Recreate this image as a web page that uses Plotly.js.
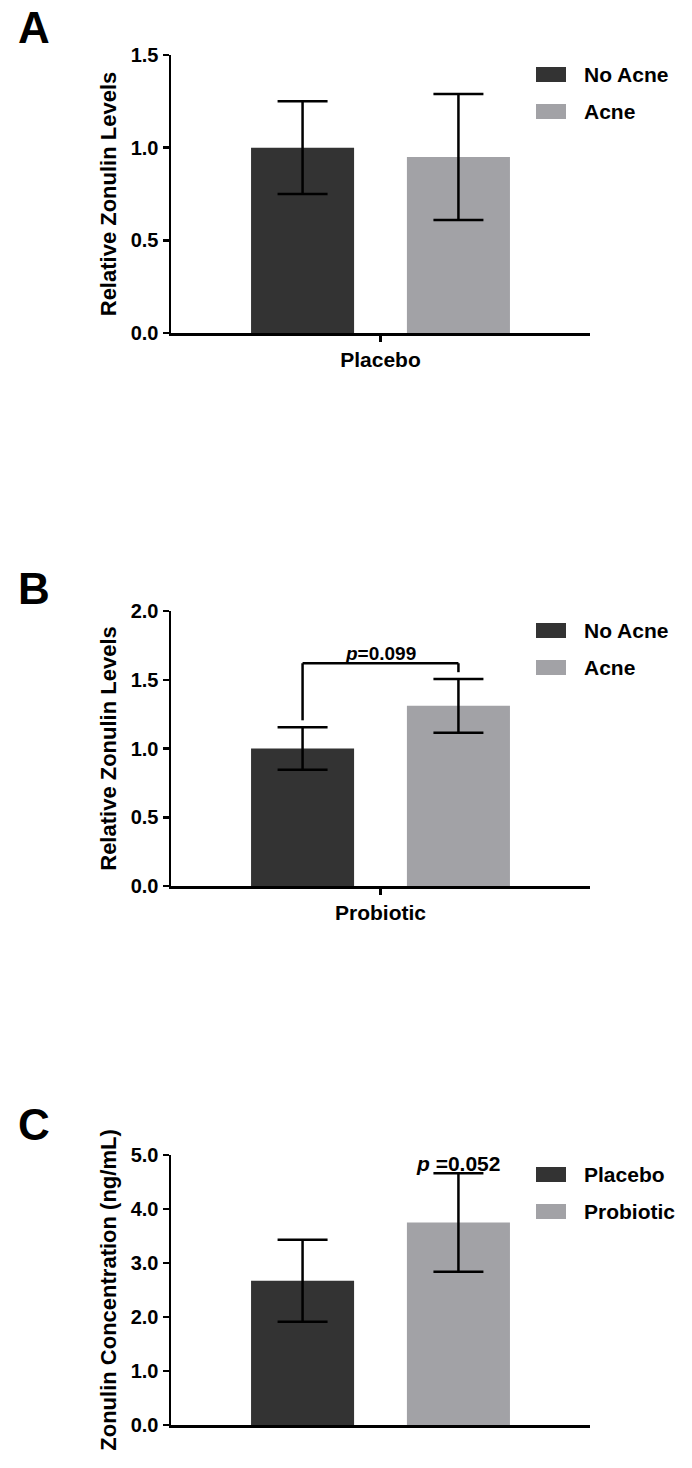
<!DOCTYPE html>
<html>
<head>
<meta charset="utf-8">
<script src="https://cdn.plot.ly/plotly-3.0.1.min.js"></script>
<style>
html,body{margin:0;padding:0;background:#fff;}
#chart{width:692px;height:1468px;}
</style>
</head>
<body>
<div id="chart"></div>
<script>
// ---------------- DATA ----------------
// Panel A
const panelA_categories = ['Placebo'];
const panelA_series = ['No Acne', 'Acne'];
const panelA_means = [1.00, 0.95];
const panelA_errors = [0.25, 0.34];
const panelA_yTicks = [0.0, 0.5, 1.0, 1.5];

// Panel B
const panelB_categories = ['Probiotic'];
const panelB_series = ['No Acne', 'Acne'];
const panelB_means = [1.00, 1.31];
const panelB_errors = [0.155, 0.195];
const panelB_yTicks = [0.0, 0.5, 1.0, 1.5, 2.0];
const panelB_pLabel = '<i>p</i>=0.099';
const panelB_bracketLevel = 1.62;

// Panel C
const panelC_categories = ['All subjects'];
const panelC_series = ['Placebo', 'Probiotic'];
const panelC_means = [2.67, 3.75];
const panelC_errors = [0.76, 0.91];
const panelC_yTicks = [0.0, 1.0, 2.0, 3.0, 4.0, 5.0];
const panelC_pLabel = '<i>p</i> =0.052';

const panelLetters = ['A', 'B', 'C'];
const yTitles = ['Relative Zonulin Levels', 'Relative Zonulin Levels', 'Zonulin Concentration (ng/mL)'];

// ---------------- STYLE / LAYOUT ----------------
const W = 692, H = 1468;
const colors = ['#333333', '#a2a2a6'];
const FONT = 'Liberation Sans, Arial, Helvetica, sans-serif';
const xDomPx = [171, 590];
const panelsPx = [ {top: 55, bottom: 333}, {top: 611, bottom: 886}, {top: 1155, bottom: 1425} ];
const letterCenterPx = [27.5, 589, 1124];
const BARGAP = 0.256, BARGROUPGAP = 0.339;

function py(p){ return 1 - p / H; }
function px(p){ return p / W; }

const panels = [
  {cats: panelA_categories, series: panelA_series, means: panelA_means, errs: panelA_errors, ticks: panelA_yTicks, showX: true},
  {cats: panelB_categories, series: panelB_series, means: panelB_means, errs: panelB_errors, ticks: panelB_yTicks, showX: true},
  {cats: panelC_categories, series: panelC_series, means: panelC_means, errs: panelC_errors, ticks: panelC_yTicks, showX: false}
];

const traces = [];
const layout = {
  width: W, height: H,
  margin: {l: 0, r: 0, t: 0, b: 0},
  paper_bgcolor: '#ffffff', plot_bgcolor: 'rgba(0,0,0,0)',
  barmode: 'group', bargap: BARGAP, bargroupgap: BARGROUPGAP,
  showlegend: false,
  font: {family: FONT, color: '#000', size: 20},
  shapes: [], annotations: []
};

panels.forEach((p, k) => {
  const sfx = k === 0 ? '' : String(k + 1);
  const xa = 'x' + sfx, ya = 'y' + sfx;
  p.series.forEach((name, i) => {
    traces.push({
      type: 'bar', name: name,
      x: p.cats, y: [p.means[i]],
      xaxis: xa, yaxis: ya,
      marker: {color: colors[i], line: {width: 0}},
      error_y: {type: 'data', array: [p.errs[i]], visible: true, color: '#000', thickness: 2.5, width: 25},
      showlegend: false, hoverinfo: 'skip'
    });
  });
  const pp = panelsPx[k];
  const yMax = p.ticks[p.ticks.length - 1];
  layout['xaxis' + sfx] = {
    domain: [px(xDomPx[0]), px(xDomPx[1])], anchor: ya,
    type: 'category', range: [-0.5, 0.5], fixedrange: true,
    showline: true, linecolor: '#000', linewidth: 2.5,
    ticks: p.showX ? 'outside' : '', ticklen: 6, tickwidth: 2.5, tickcolor: '#000',
    showticklabels: p.showX, tickfont: {family: FONT, size: 21, color: '#000', weight: 'bold'},
    showgrid: false, zeroline: false
  };
  layout['yaxis' + sfx] = {
    domain: [py(pp.bottom), py(pp.top)], anchor: xa,
    range: [0, yMax], fixedrange: true,
    tickmode: 'array', tickvals: p.ticks, ticktext: p.ticks.map(v => v.toFixed(1)),
    showline: true, linecolor: '#000', linewidth: 2.5,
    ticks: 'outside', ticklen: 6, tickwidth: 2.5, tickcolor: '#000',
    tickfont: {family: FONT, size: 20, color: '#000', weight: 'bold'},
    showgrid: false, zeroline: false,
    title: {text: yTitles[k], font: {family: FONT, size: 22, color: '#000', weight: 'bold'}, standoff: 8}
  };

  // panel letter
  layout.annotations.push({
    xref: 'paper', yref: 'paper', x: px(16), y: py(letterCenterPx[k]),
    xanchor: 'left', yanchor: 'middle', showarrow: false,
    text: panelLetters[k], font: {family: FONT, size: 44, color: '#000', weight: 'bold'}
  });

  // custom legend
  p.series.forEach((name, i) => {
    const top = pp.top + 12 + i * 37;
    layout.shapes.push({
      type: 'rect', xref: 'paper', yref: 'paper',
      x0: px(536), x1: px(566), y0: py(top + 15), y1: py(top),
      fillcolor: colors[i], line: {width: 0}
    });
    layout.annotations.push({
      xref: 'paper', yref: 'paper', x: px(582), y: py(top + 7.5),
      xanchor: 'left', yanchor: 'middle', showarrow: false,
      text: name, font: {family: FONT, size: 21, color: '#000', weight: 'bold'}
    });
  });
});

// bar centre offsets (in category units) derived from group layout
const slot = (1 - BARGAP) / 2;
const centers = [-slot / 2, slot / 2];

// Panel B bracket
const legGap = 0.05;
const bLeft = panelB_means[0] + panelB_errors[0] + legGap;
const bRight = panelB_means[1] + panelB_errors[1] + legGap;
[[centers[0], bLeft, centers[0], panelB_bracketLevel],
 [centers[0], panelB_bracketLevel, centers[1], panelB_bracketLevel],
 [centers[1], panelB_bracketLevel, centers[1], bRight]].forEach(s => {
  layout.shapes.push({type: 'line', xref: 'x2', yref: 'y2', x0: s[0], y0: s[1], x1: s[2], y1: s[3],
    line: {color: '#000', width: 2.5}});
});
layout.annotations.push({
  xref: 'x2', yref: 'y2', x: 0, y: panelB_bracketLevel, xanchor: 'center', yanchor: 'bottom',
  yshift: -3, showarrow: false, text: panelB_pLabel,
  font: {family: FONT, size: 19, color: '#000', weight: 'bold'}
});

// Panel C p-value
layout.annotations.push({
  xref: 'x3', yref: 'y3', x: centers[1], y: panelC_means[1] + panelC_errors[1],
  xanchor: 'center', yanchor: 'bottom', yshift: -4, showarrow: false, text: panelC_pLabel,
  font: {family: FONT, size: 21, color: '#000', weight: 'bold'}
});

Plotly.newPlot('chart', traces, layout, {staticPlot: true, displayModeBar: false});
</script>
</body>
</html>
